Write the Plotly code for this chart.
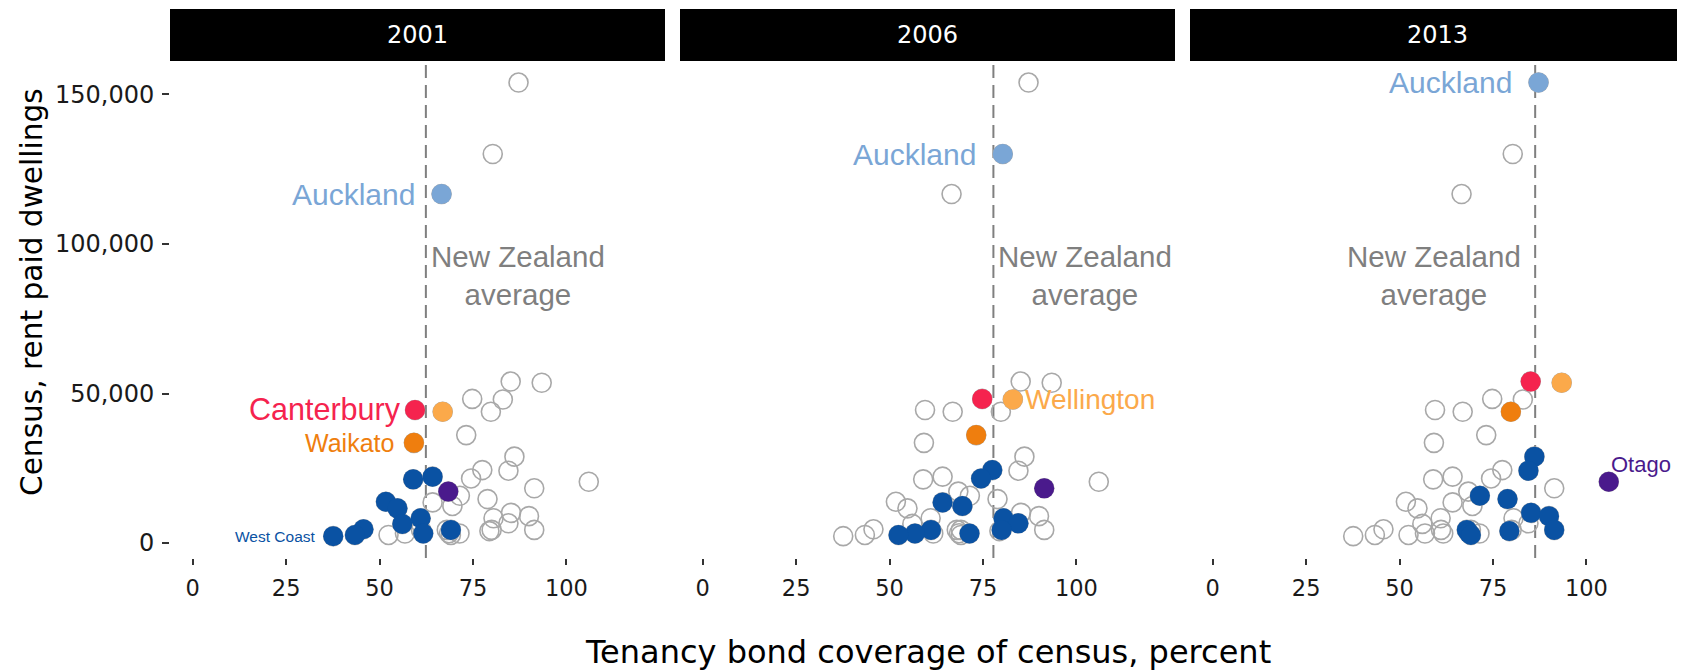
import plotly.graph_objects as go
from plotly.subplots import make_subplots

years = ["2001", "2006", "2013"]

regions = ["Auckland", "Canterbury", "Wellington", "Waikato", "Otago",
           "Bay of Plenty", "Manawatu-Wanganui", "Hawke's Bay", "Northland",
           "Taranaki", "Southland", "Nelson", "Marlborough", "Tasman",
           "Gisborne", "West Coast"]

# tenancy bond coverage of census (percent) and census rent-paid dwellings
coverage_2001 = [66.6, 59.5, 66.9, 59.2, 68.4, 64.2, 59.0, 51.7, 54.8, 61.0, 56.1, 45.7, 69.1, 61.7, 43.4, 37.6]
dwellings_2001 = [116700, 44500, 43900, 33500, 17200, 22200, 21300, 13800, 11600, 8300, 6400, 4600, 4400, 3200, 2700, 2300]

coverage_2006 = [80.3, 74.8, 83.0, 73.2, 91.4, 77.5, 74.5, 64.2, 69.5, 80.5, 84.5, 61.1, 80.0, 56.8, 71.4, 52.4]
dwellings_2006 = [130100, 48200, 48000, 36100, 18300, 24400, 21600, 13600, 12400, 8300, 6600, 4400, 4400, 3200, 3200, 2700]

coverage_2013 = [87.2, 85.1, 93.4, 79.8, 106.0, 86.1, 84.5, 71.5, 78.9, 85.2, 90.0, 91.4, 68.0, 79.4, 68.6, 69.1]
dwellings_2013 = [154000, 54000, 53600, 43900, 20500, 28900, 24200, 15800, 14700, 10100, 9000, 4400, 4400, 4000, 3300, 2700]

nz_average = [62.4, 77.8, 86.3]

labelled = {
    "2001": ["Auckland", "Canterbury", "Waikato", "West Coast"],
    "2006": ["Auckland", "Wellington"],
    "2013": ["Auckland", "Otago"],
}

coverage = {"2001": coverage_2001, "2006": coverage_2006, "2013": coverage_2013}
dwellings = {"2001": dwellings_2001, "2006": dwellings_2006, "2013": dwellings_2013}

region_colours = {
    "Auckland": "#7AA6D6",
    "Canterbury": "#F5234E",
    "Wellington": "#FBA94A",
    "Waikato": "#EF7E0E",
    "Otago": "#4A1A8C",
}
other_colour = "#0A52A3"

# label style: font size, anchor, x shift, y shift
label_style = {
    "Auckland": (30, "right", -25, 0),
    "Canterbury": (30.5, "right", -12, 0),
    "Waikato": (25, "right", -18, 0),
    "West Coast": (15.5, "right", -15, 0),
    "Wellington": (28, "left", 10, 0),
    "Otago": (22, "left", 0, 17),
}

# the page body adds an 8px offset, so the figure is sized to sit inside the window
W, H = 1677, 663
L, R, T, B = 162, 0, 53, 113
plot_w = W - L - R
plot_h = H - T - B
gap = 15 / plot_w

fig = make_subplots(rows=1, cols=3, shared_yaxes=True, horizontal_spacing=gap)

all_x = coverage_2001 + coverage_2006 + coverage_2013
all_y = dwellings_2001 + dwellings_2006 + dwellings_2013

label_font = "Liberation Sans, Arial, sans-serif"
axis_font = "DejaVu Sans, sans-serif"

for i, yr in enumerate(years):
    col = i + 1
    # every region in every year, as hollow context points
    fig.add_trace(go.Scatter(
        x=all_x, y=all_y, mode="markers",
        marker=dict(size=19, color="rgba(0,0,0,0)",
                    line=dict(color="#A8A8A8", width=1.6)),
        hoverinfo="skip", showlegend=False
    ), row=1, col=col)

    fig.add_trace(go.Scatter(
        x=coverage[yr], y=dwellings[yr], mode="markers",
        marker=dict(size=20, color=[region_colours.get(r, other_colour) for r in regions],
                    line=dict(width=0)),
        text=regions, showlegend=False
    ), row=1, col=col)

    fig.add_vline(x=nz_average[i], row=1, col=col, layer="below",
                  line=dict(color="#7F7F7F", width=2, dash="13px,7px"))

    xref = "x" if col == 1 else f"x{col}"
    yref = "y" if col == 1 else f"y{col}"

    # New Zealand average note
    right_side = col != 3
    fig.add_annotation(
        x=nz_average[i], y=89450, xref=xref, yref=yref,
        text="New Zealand<br>average", showarrow=False, align="center",
        xanchor="left" if right_side else "right",
        xshift=3 if right_side else -12, yanchor="middle",
        font=dict(family=label_font, size=29.5, color="#7F7F7F")
    )

    for name in labelled[yr]:
        k = regions.index(name)
        size, anchor, dx, dy = label_style[name]
        fig.add_annotation(
            x=coverage[yr][k], y=dwellings[yr][k], xref=xref, yref=yref,
            text=name, showarrow=False, xanchor=anchor, yanchor="middle",
            xshift=dx, yshift=dy,
            font=dict(family=label_font, size=size,
                      color=region_colours.get(name, other_colour))
        )

    # facet strip
    dom = fig.layout[f"xaxis{'' if col == 1 else col}"].domain
    fig.add_shape(type="rect", xref="paper", yref="paper",
                  x0=dom[0], x1=dom[1], y0=1, y1=1 + 52 / plot_h,
                  fillcolor="black", line=dict(width=0))
    fig.add_annotation(x=(dom[0] + dom[1]) / 2, y=1 + 26 / plot_h,
                       xref="paper", yref="paper", text=yr, showarrow=False,
                       xanchor="center", yanchor="middle",
                       font=dict(family=axis_font, size=24, color="white"))

fig.update_xaxes(range=[-6.08, 126.4], tickvals=[0, 25, 50, 75, 100],
                 showgrid=False, zeroline=False, showline=False,
                 ticks="outside", ticklen=6, tickwidth=1.5, tickcolor="#333333",
                 ticklabelstandoff=4,
                 tickfont=dict(family=axis_font, size=22.5, color="#1A1A1A"))
fig.update_yaxes(range=[-5000, 161200], tickvals=[0, 50000, 100000, 150000],
                 tickformat=",", showgrid=False, zeroline=False, showline=False,
                 tickfont=dict(family=axis_font, size=24, color="#1A1A1A"))
fig.update_yaxes(ticks="outside", ticklen=7, tickwidth=1.5, tickcolor="#333333",
                 ticklabelstandoff=3, row=1, col=1)

fig.add_annotation(x=0.5, y=-94 / plot_h, xref="paper", yref="paper",
                   text="Tenancy bond coverage of census, percent", showarrow=False,
                   xanchor="center", yanchor="middle",
                   font=dict(family=axis_font, size=32, color="black"))
fig.add_annotation(x=-(L - 24) / plot_w, y=(H - B - T - 292 + 61) / plot_h,
                   xref="paper", yref="paper",
                   text="Census, rent paid dwellings", showarrow=False, textangle=-90,
                   xanchor="center", yanchor="middle",
                   font=dict(family=axis_font, size=29.6, color="black"))

fig.update_layout(
    width=W, height=H,
    margin=dict(l=L, r=R, t=T, b=B),
    paper_bgcolor="white", plot_bgcolor="white",
    showlegend=False,
)

fig.write_html("out.html")
